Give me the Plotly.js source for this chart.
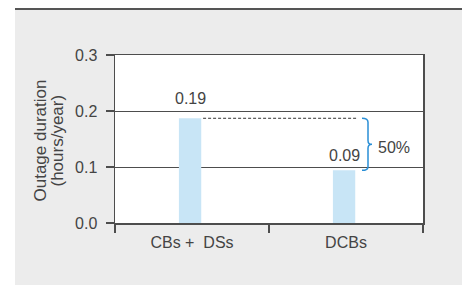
<!DOCTYPE html>
<html>
<head>
<meta charset="utf-8">
<script src="https://cdn.plot.ly/plotly-3.0.1.min.js"></script>
<style>html,body{margin:0;padding:0;background:#fff;}#chart{width:462px;height:285px;}</style>
</head>
<body>
<div id="chart"></div>
<script>
// Data
const categories = ["CBs +  DSs", "DCBs"];
const durations = [0.187, 0.094];
const valueLabels = ["0.19", "0.09"];
const reductionLabel = "50%";
const yTickVals = [0.0, 0.1, 0.2, 0.3];
const yTickText = ["0.0", "0.1", "0.2", "0.3"];
const yTitleLines = ["Outage duration", "(hours/year)"];

const W = 462, H = 285;
const M = {l: 115, r: 39, t: 55, b: 62};
const PW = W - M.l - M.r, PH = H - M.t - M.b;
const px2paperX = p => (p - M.l) / PW;
const py2paperY = p => (H - M.b - p) / PH;

const txt = '#444';
const font = 'Liberation Sans, Arial, Helvetica, sans-serif';

const barW = 0.145, barOff = -0.085;
const vTop = durations[0], vBot = durations[1], vMid = (vTop + vBot) / 2;
const dd = 0.007;

const trace = {
  type: 'bar',
  x: categories,
  y: durations,
  width: categories.map(() => barW),
  offset: categories.map(() => barOff),
  marker: {color: '#c8e5f6', line: {width: 0}},
  hoverinfo: 'skip'
};

const bracePath = `M0,${vTop} Q6,${vTop} 6,${vTop - dd} L6,${vMid + dd} Q6,${vMid} 10,${vMid} Q6,${vMid} 6,${vMid - dd} L6,${vBot + dd} Q6,${vBot} 0,${vBot}`;

const layout = {
  width: W, height: H,
  margin: M,
  paper_bgcolor: '#ececec',
  plot_bgcolor: '#ffffff',
  showlegend: false,
  font: {family: font, size: 16, color: txt},
  xaxis: {
    type: 'category',
    range: [-0.5, 1.5],
    showline: true, mirror: true, linecolor: '#4d4d4d', linewidth: 1.5,
    ticks: 'outside', tickson: 'boundaries', ticklen: 8, tickcolor: '#4d4d4d', tickwidth: 1.5,
    showgrid: false, zeroline: false,
    tickfont: {family: font, size: 16, color: txt},
    ticklabelstandoff: 4
  },
  yaxis: {
    range: [0, 0.3],
    tickvals: yTickVals, ticktext: yTickText,
    showline: true, mirror: true, linecolor: '#4d4d4d', linewidth: 1.5,
    ticks: 'outside', ticklen: 8, tickcolor: '#4d4d4d', tickwidth: 1.5,
    showgrid: true, gridcolor: '#4d4d4d', gridwidth: 1, zeroline: false,
    tickfont: {family: font, size: 16, color: txt},
    ticklabelstandoff: 5
  },
  shapes: [
    {type: 'rect', xref: 'paper', yref: 'paper', x0: px2paperX(-5), x1: px2paperX(15), y0: py2paperY(300), y1: py2paperY(-5), fillcolor: '#ffffff', line: {width: 0}, layer: 'below'},
    {type: 'rect', xref: 'paper', yref: 'paper', x0: px2paperX(-5), x1: px2paperX(470), y0: py2paperY(8), y1: py2paperY(-5), fillcolor: '#ffffff', line: {width: 0}, layer: 'below'},
    {type: 'rect', xref: 'paper', yref: 'paper', x0: px2paperX(15), x1: px2paperX(470), y0: py2paperY(10), y1: py2paperY(8), fillcolor: '#555555', line: {width: 0}, layer: 'below'},
    {type: 'line', xref: 'x', yref: 'y', x0: 0 + barOff + barW + 0.012, x1: 1 + barOff + barW + 0.012, y0: vTop, y1: vTop, line: {color: '#333', width: 1, dash: '3px,2px'}},
    {type: 'path', xref: 'paper', yref: 'y', xsizemode: 'pixel', xanchor: px2paperX(362), path: bracePath, line: {color: '#2a8fd6', width: 1.5}}
  ],
  annotations: [
    {xref: 'x', yref: 'y', x: 0, y: durations[0], text: valueLabels[0], showarrow: false, xanchor: 'center', yanchor: 'bottom', yshift: 9, xshift: -2, font: {size: 16, color: txt}},
    {xref: 'x', yref: 'y', x: 1, y: durations[1], text: valueLabels[1], showarrow: false, xanchor: 'center', yanchor: 'bottom', yshift: 4, xshift: -2, font: {size: 16, color: txt}},
    {xref: 'paper', yref: 'y', x: px2paperX(376), y: vMid, text: reductionLabel, showarrow: false, xanchor: 'left', yanchor: 'middle', yshift: -3, font: {size: 16, color: txt}},
    {xref: 'paper', yref: 'paper', x: px2paperX(39.5), y: 0.5, text: yTitleLines[0], showarrow: false, textangle: -90, xanchor: 'center', yanchor: 'middle', yshift: -2, font: {size: 17, color: txt}},
    {xref: 'paper', yref: 'paper', x: px2paperX(56.5), y: 0.5, text: yTitleLines[1], showarrow: false, textangle: -90, xanchor: 'center', yanchor: 'middle', yshift: -2, font: {size: 17, color: txt}}
  ]
};

Plotly.newPlot('chart', [trace], layout, {displayModeBar: false, staticPlot: true});
</script>
</body>
</html>
